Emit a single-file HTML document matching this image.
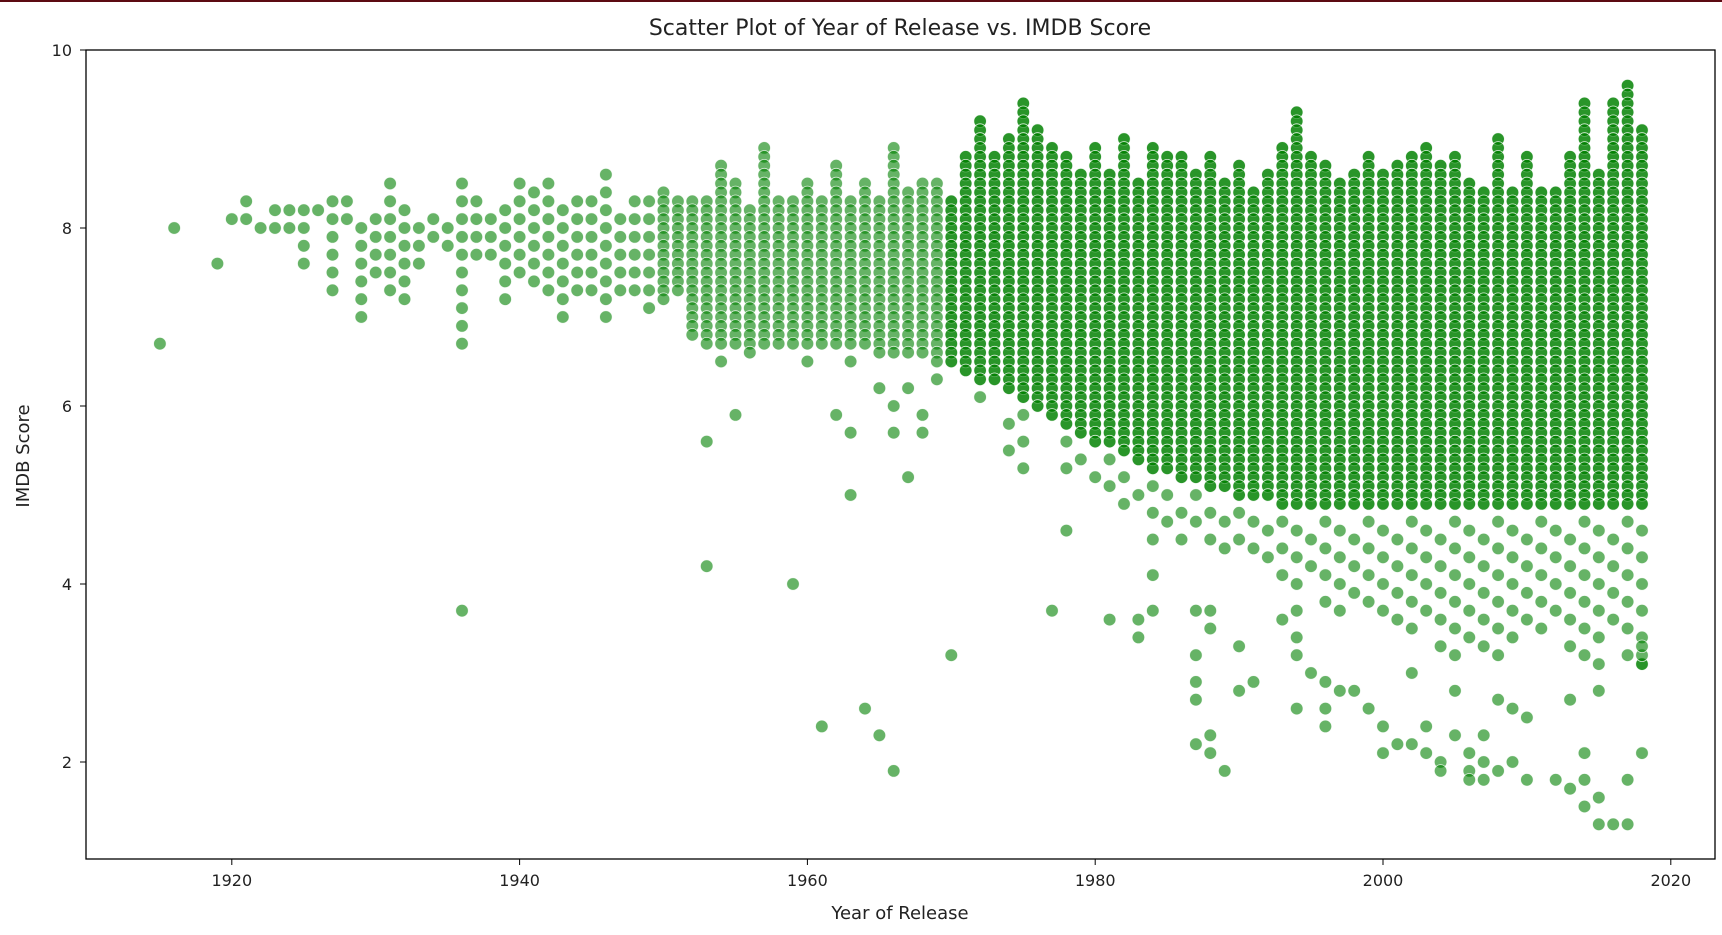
<!DOCTYPE html>
<html><head><meta charset="utf-8"><style>
html,body{margin:0;padding:0;background:#fff;width:1722px;height:935px;overflow:hidden}
svg{display:block;font-family:"DejaVu Sans","Liberation Sans",sans-serif}
</style></head><body>
<svg id="chart" width="1722" height="935">
<rect x="0" y="0" width="1722" height="2" fill="#5c0a12"/>
<text x="900" y="35" font-size="22" text-anchor="middle" fill="#222">Scatter Plot of Year of Release vs. IMDB Score</text>
<g id="plot"></g>
<rect x="86" y="50" width="1629" height="809" fill="none" stroke="#000" stroke-width="1.3"/>
<g id="axes"></g>
<text x="900" y="919" font-size="18" text-anchor="middle" fill="#222">Year of Release</text>
<text x="0" y="0" font-size="18" text-anchor="middle" fill="#222" transform="translate(29,456) rotate(-90)">IMDB Score</text>
</svg>
<script>
const firstYear = 1915;
const envLo = [6.7,8.0,null,null,7.6,8.1,8.1,7.9,7.9,7.9,7.6,8.1,7.3,8.0,7.0,7.4,7.3,7.2,7.6,7.9,7.8,6.6,7.6,7.6,7.2,7.4,7.3,7.2,7.0,7.2,7.3,6.9,7.3,7.3,7.1,
 7.2,7.3,6.7,6.5,6.5,6.5,6.3,6.6,6.7,6.7,6.3,6.7,6.7,6.5,6.5,6.4,6.5,6.5,6.5,6.3,6.5,6.3,6.0,6.1,5.5,5.2,5.9,5.6,5.3,5.3,
 5.0,5.0,4.8,4.9,4.4,4.6,4.4,4.5,4.3,4.2,4.3,4.2,4.1,3.9,3.4,4.1,3.7,3.6,3.7,3.8,3.7,3.6,3.4,3.6,3.3,3.0,3.2,3.1,3.2,3.3,3.4,3.3,3.6,3.3,3.1,3.1,3.6,3.5,3.1];
const coreLo = [6.7,8.0,null,null,7.6,8.1,8.1,7.9,7.9,7.9,7.6,8.1,7.3,8.0,7.0,7.4,7.3,7.2,7.6,7.9,7.8,6.6,7.6,7.6,7.2,7.4,7.3,7.2,7.0,7.2,7.3,6.9,7.3,7.3,7.1,
 7.2,7.3,6.8,6.7,6.7,6.7,6.6,6.7,6.7,6.7,6.7,6.7,6.7,6.7,6.7,6.6,6.6,6.6,6.6,6.5,6.5,6.4,6.3,6.3,6.2,6.1,6.0,5.9,5.8,5.7,
 5.6,5.6,5.5,5.4,5.3,5.3,5.2,5.2,5.1,5.1,5.0,5.0,5.0,4.9,4.9,4.9,4.9,4.9,4.9,4.9,4.9,4.9,4.9,4.9,4.9,4.9,4.9,4.9,4.9,4.9,4.9,4.9,4.9,4.9,4.9,4.9,4.9,4.9,4.9];
const hiVals = [6.7,8.0,null,null,7.6,8.1,8.3,8.0,8.2,8.2,8.2,8.2,8.3,8.3,8.0,8.1,8.5,8.2,8.0,8.1,8.0,8.5,8.3,8.1,8.2,8.5,8.4,8.5,8.2,8.3,8.3,8.6,8.1,8.3,8.3,
 8.4,8.3,8.3,8.3,8.7,8.5,8.2,8.9,8.3,8.3,8.5,8.3,8.7,8.3,8.5,8.3,8.9,8.4,8.5,8.5,8.3,8.8,9.2,8.8,9.0,9.4,9.1,8.9,8.8,8.6,
 8.9,8.6,9.0,8.5,8.9,8.8,8.8,8.6,8.8,8.5,8.7,8.4,8.6,8.9,9.3,8.8,8.7,8.5,8.6,8.8,8.6,8.7,8.8,8.9,8.7,8.8,8.5,8.4,9.0,8.4,8.8,8.4,8.4,8.8,9.4,8.6,9.4,9.6,9.1];
const overlap = [1,1,0,0,1,1,1,1,1,1,1,1,1,1,1,1,1,1,1,1,1,1,1,1,1,1,1,1,1,1,1,1,1,1,1,
 1,1,1,1,1,1,1,1,1,1,1,1,1,1,1,1,1,1,1,1,2,2,2,2,2,2,2,2,2,2,
 2,2,2,2,2,2,2,2,2,2,2,2,2,2,2,2,2,2,2,2,2,2,2,2,2,2,2,2,2,2,2,2,2,2,2,2,2,2,2];
const outYears = [1936,1953,1953,1955,1959,1961,1962,1963,1963,1964,1965,1965,1966,1966,1966,1967,1967,1968,1968,1970,1977,1978,1981,1983,1983,1984,1984,1987,1987,1987,1987,1987,1988,1988,1988,1988,1989,1990,1990,1991,1993,1994,1994,1995,1996,1996,1996,1997,1998,1999,2000,2000,2001,2002,2002,2003,2003,2004,2004,2005,2005,2006,2006,2006,2007,2007,2007,2008,2008,2009,2009,2010,2010,2012,2013,2013,2014,2014,2014,2015,2015,2015,2016,2017,2017,2017,2018,2018,2018,2018];
const outScores = [3.7,5.6,4.2,5.9,4.0,2.4,5.9,5.7,5.0,2.6,2.3,6.2,1.9,5.7,6.0,5.2,6.2,5.9,5.7,3.2,3.7,4.6,3.6,3.4,3.6,3.7,4.1,3.7,3.2,2.9,2.7,2.2,3.7,3.5,2.3,2.1,1.9,3.3,2.8,2.9,3.6,3.2,2.6,3.0,2.6,2.4,2.9,2.8,2.8,2.6,2.4,2.1,2.2,3.0,2.2,2.4,2.1,2.0,1.9,2.8,2.3,1.9,1.8,2.1,2.3,1.8,2.0,2.7,1.9,2.0,2.6,2.5,1.8,1.8,1.7,2.7,1.5,1.8,2.1,1.3,1.6,2.8,1.3,1.3,1.8,3.2,2.1,3.1,3.2,3.3];
const xTicks = [1920,1940,1960,1980,2000,2020];
const yTicks = [2,4,6,8,10];

const NS = "http://www.w3.org/2000/svg";
const xS = yr => 231.8 + (yr - 1920) * 14.39;
const yS = v => 50 + (10 - v) * 89;
const plot = document.getElementById('plot');
const axes = document.getElementById('axes');
function dot(yr, v) {
  const c = document.createElementNS(NS, 'circle');
  c.setAttribute('cx', xS(yr).toFixed(1));
  c.setAttribute('cy', yS(v).toFixed(1));
  c.setAttribute('r', 6.3);
  c.setAttribute('fill', 'rgba(0,128,0,0.6)');
  c.setAttribute('stroke', 'rgba(255,255,255,0.8)');
  c.setAttribute('stroke-width', 0.8);
  
  
  plot.appendChild(c);
}
for (let i = 0; i < hiVals.length; i++) {
  if (hiVals[i] === null) continue;
  const yr = firstYear + i;
  const st = yr < 1950 ? 0.2 : 0.1;
  for (let n = 0; n < overlap[i]; n++) {
    for (let v = hiVals[i]; v >= coreLo[i] - 1e-6; v -= st) dot(yr, v);
  }
  const off = (i % 3) * 0.1;
  for (let v = coreLo[i] - 0.2 - off; v >= envLo[i] - 1e-6; v -= 0.3) dot(yr, v);
}
for (let k = 0; k < outYears.length; k++) dot(outYears[k], outScores[k]);

xTicks.forEach(t => {
  const x = xS(t);
  const l = document.createElementNS(NS, 'line');
  l.setAttribute('x1', x); l.setAttribute('x2', x); l.setAttribute('y1', 859); l.setAttribute('y2', 865);
  l.setAttribute('stroke', '#000');
  
  
  axes.appendChild(l);
  const tx = document.createElementNS(NS, 'text');
  tx.setAttribute('x', x); tx.setAttribute('y', 886);
  tx.setAttribute('font-size', 16); tx.setAttribute('text-anchor', 'middle'); tx.setAttribute('fill', '#222');
  tx.textContent = t;
  
  
  axes.appendChild(tx);
});
yTicks.forEach(t => {
  const y = yS(t);
  const l = document.createElementNS(NS, 'line');
  l.setAttribute('x1', 80); l.setAttribute('x2', 86); l.setAttribute('y1', y); l.setAttribute('y2', y);
  l.setAttribute('stroke', '#000');
  
  
  axes.appendChild(l);
  const tx = document.createElementNS(NS, 'text');
  tx.setAttribute('x', 72); tx.setAttribute('y', y + 6);
  tx.setAttribute('font-size', 16); tx.setAttribute('text-anchor', 'end'); tx.setAttribute('fill', '#222');
  tx.textContent = t;
  
  
  axes.appendChild(tx);
});
</script>
</body></html>
